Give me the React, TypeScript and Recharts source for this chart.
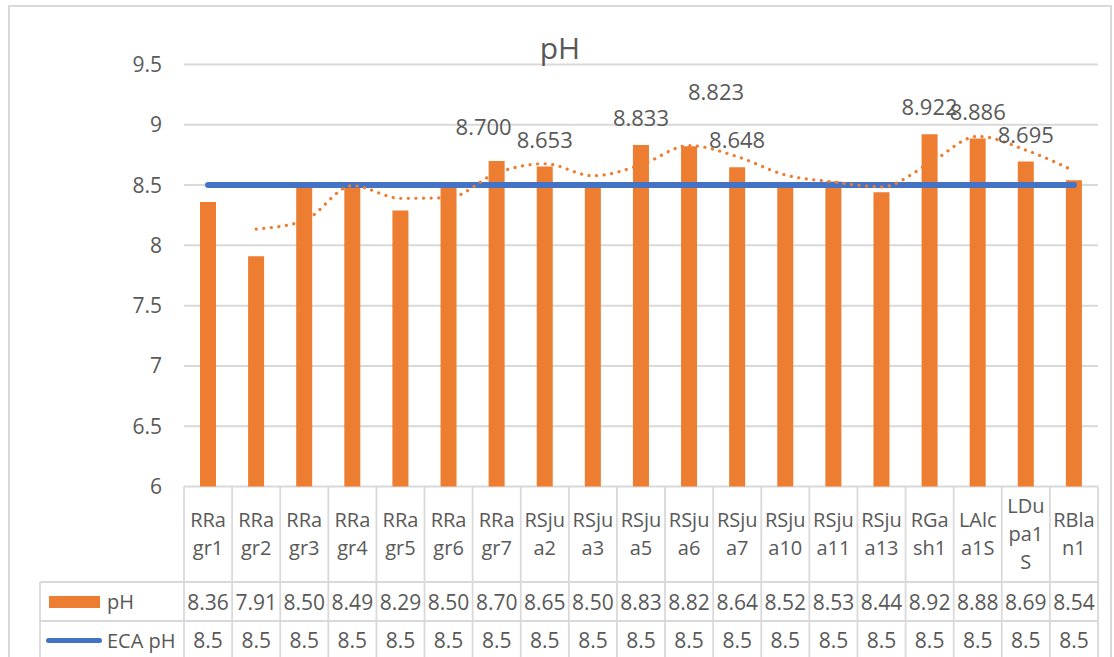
import React from "react";
import {
  ComposedChart,
  Bar,
  Line,
  XAxis,
  YAxis,
  CartesianGrid,
  LabelList,
} from "recharts";

const categories = [
  "RRagr1", "RRagr2", "RRagr3", "RRagr4", "RRagr5", "RRagr6", "RRagr7",
  "RSjua2", "RSjua3", "RSjua5", "RSjua6", "RSjua7", "RSjua10", "RSjua11", "RSjua13",
  "RGash1", "LAlca1S", "LDupa1S", "RBlan1",
];

const categoryLines = [
  ["RRa", "gr1"], ["RRa", "gr2"], ["RRa", "gr3"], ["RRa", "gr4"], ["RRa", "gr5"],
  ["RRa", "gr6"], ["RRa", "gr7"], ["RSju", "a2"], ["RSju", "a3"], ["RSju", "a5"],
  ["RSju", "a6"], ["RSju", "a7"], ["RSju", "a10"], ["RSju", "a11"], ["RSju", "a13"],
  ["RGa", "sh1"], ["LAlc", "a1S"], ["LDu", "pa1", "S"], ["RBla", "n1"],
];

const phValues = [
  8.36, 7.91, 8.5, 8.49, 8.29, 8.5, 8.7, 8.653, 8.5, 8.833, 8.823, 8.648, 8.52,
  8.53, 8.44, 8.922, 8.886, 8.695, 8.54,
];

const phTableText = [
  "8.36", "7.91", "8.50", "8.49", "8.29", "8.50", "8.70", "8.65", "8.50", "8.83",
  "8.82", "8.64", "8.52", "8.53", "8.44", "8.92", "8.88", "8.69", "8.54",
];

const ecaValues = [
  8.5, 8.5, 8.5, 8.5, 8.5, 8.5, 8.5, 8.5, 8.5, 8.5, 8.5, 8.5, 8.5, 8.5, 8.5, 8.5,
  8.5, 8.5, 8.5,
];

const ecaTableText = [
  "8.5", "8.5", "8.5", "8.5", "8.5", "8.5", "8.5", "8.5", "8.5", "8.5", "8.5",
  "8.5", "8.5", "8.5", "8.5", "8.5", "8.5", "8.5", "8.5",
];

// 2-period moving average trendline
const trendValues = [
  null, 8.135, 8.205, 8.495, 8.39, 8.395, 8.6, 8.677, 8.577, 8.667, 8.828, 8.736,
  8.584, 8.525, 8.485, 8.681, 8.904, 8.79, 8.618,
];

const labeledCategories = [
  "RRagr7", "RSjua2", "RSjua5", "RSjua6", "RSjua7", "RGash1", "LAlca1S", "LDupa1S",
];

const yTicks = [6, 6.5, 7, 7.5, 8, 8.5, 9, 9.5];

const labelNudges: Record<string, { dx: number; dy: number }> = {
  RRagr7: { dx: -13, dy: -7 },
  RSjua6: { dx: 27, dy: -27 },
};

const data = categories.map((c, i) => ({
  category: c,
  ph: phValues[i],
  eca: ecaValues[i],
  trend: trendValues[i],
  labelText: labeledCategories.includes(c) ? phValues[i].toFixed(3) : null,
}));

const FONT = "'Open Sans', 'Noto Sans', sans-serif";
const TEXT = "#595959";
const GRID = "#D9D9D9";
const ORANGE = "#ED7D31";
const BLUE = "#4472C4";

const W = 1100;
const H = 656;
const M_LEFT = 114;
const Y_W = 60;
const M_RIGHT = 12;
const M_TOP = 57.5;
const X_H = 176.5;
const PLOT_W = W - M_LEFT - Y_W - M_RIGHT;

const TABLE_FONT = 20;
const VALUE_FONT = 21;

const TableTick = (props: any) => {
  const { x, y, payload } = props;
  const i = payload.index;
  const colW = PLOT_W / categories.length;
  const left = x - colW / 2;
  const right = x + colW / 2;
  const top = y;
  const hdrBottom = top + 95.5;
  const phBottom = top + 134.5;
  const phCenter = top + 115.5;
  const ecaCenter = top + 154;
  const lines = categoryLines[i] || [];
  const hdrCenter = top + 47.5;
  const base = 0.36 * TABLE_FONT;
  const vbase = 0.36 * VALUE_FONT;
  const els: any[] = [];
  els.push(<line key="vl" x1={left} x2={left} y1={top} y2={top + 200} stroke={GRID} strokeWidth={1.8} />);
  if (i === categories.length - 1) {
    els.push(<line key="vr" x1={right} x2={right} y1={top} y2={top + 200} stroke={GRID} strokeWidth={1.8} />);
  }
  els.push(<line key="h1" x1={left} x2={right} y1={hdrBottom} y2={hdrBottom} stroke={GRID} strokeWidth={1.8} />);
  els.push(<line key="h2" x1={left} x2={right} y1={phBottom} y2={phBottom} stroke={GRID} strokeWidth={1.8} />);
  lines.forEach((ln: string, k: number) => {
    const cy = hdrCenter + (k - (lines.length - 1) / 2) * 28;
    els.push(
      <text key={"c" + k} x={x} y={cy + base} textAnchor="middle" fontSize={TABLE_FONT} fontFamily={FONT} fill={TEXT}>
        {ln}
      </text>
    );
  });
  els.push(
    <text key="pv" x={x} y={phCenter + vbase} textAnchor="middle" fontSize={VALUE_FONT} fontFamily={FONT} fill={TEXT}>
      {phTableText[i]}
    </text>
  );
  els.push(
    <text key="ev" x={x} y={ecaCenter + vbase} textAnchor="middle" fontSize={VALUE_FONT} fontFamily={FONT} fill={TEXT}>
      {ecaTableText[i]}
    </text>
  );
  if (i === 0) {
    const lx = left - 144;
    els.push(<line key="lh1" x1={lx} x2={left} y1={hdrBottom} y2={hdrBottom} stroke={GRID} strokeWidth={1.8} />);
    els.push(<line key="lh2" x1={lx} x2={left} y1={phBottom} y2={phBottom} stroke={GRID} strokeWidth={1.8} />);
    els.push(<line key="lv" x1={lx} x2={lx} y1={hdrBottom} y2={top + 200} stroke={GRID} strokeWidth={1.8} />);
    els.push(<rect key="sw" x={lx + 9} y={phCenter - 6} width={51} height={12} fill={ORANGE} />);
    els.push(
      <text key="lt1" x={lx + 67} y={phCenter + base} textAnchor="start" fontSize={TABLE_FONT} fontFamily={FONT} fill={TEXT}>
        pH
      </text>
    );
    els.push(
      <line key="bl" x1={lx + 8.5} x2={lx + 59.5} y1={ecaCenter} y2={ecaCenter} stroke={BLUE} strokeWidth={5} strokeLinecap="round" />
    );
    els.push(
      <text key="lt2" x={lx + 67} y={ecaCenter + base} textAnchor="start" fontSize={TABLE_FONT} fontFamily={FONT} fill={TEXT}>
        ECA pH
      </text>
    );
  }
  return <g>{els}</g>;
};

const DataLabel = (props: any) => {
  const { value, index } = props;
  if (value === null || value === undefined || value === "") return null;
  const vb = props.viewBox || props;
  const bx = vb.x ?? props.x;
  const by = vb.y ?? props.y;
  const bw = vb.width ?? props.width;
  const cat = categories[index];
  const n = labelNudges[cat] || { dx: 0, dy: 0 };
  return (
    <text
      x={bx + bw / 2 + n.dx}
      y={by - 19 + n.dy}
      textAnchor="middle"
      fontSize={22}
      fontFamily={FONT}
      fill={TEXT}
    >
      {value}
    </text>
  );
};

export default function App() {
  return (
    <div
      style={{
        position: "fixed",
        left: 8,
        top: 5,
        width: 1104,
        height: 660,
        border: `2px solid ${GRID}`,
        boxSizing: "border-box",
        background: "#fff",
        overflow: "hidden",
      }}
    >
      <div style={{ position: "absolute", left: 0, top: 0 }}>
        <ComposedChart
          width={W}
          height={H}
          data={data}
          margin={{ top: M_TOP, right: M_RIGHT, bottom: 0, left: M_LEFT }}
        >
          <CartesianGrid horizontal vertical={false} stroke={GRID} strokeWidth={2} />
          <XAxis
            dataKey="category"
            interval={0}
            height={X_H}
            tickSize={0}
            tickMargin={0}
            axisLine={false}
            tickLine={false}
            tick={<TableTick />}
          />
          <YAxis
            type="number"
            domain={[6, 9.5]}
            ticks={yTicks}
            width={Y_W}
            tickSize={0}
            tickMargin={22}
            axisLine={false}
            tickLine={false}
            tick={{ fontSize: 21, fill: TEXT, fontFamily: FONT }}
          />
          <Bar dataKey="ph" fill={ORANGE} barSize={16} isAnimationActive={false}>
            <LabelList dataKey="labelText" content={<DataLabel />} />
          </Bar>
          <Line
            dataKey="eca"
            type="linear"
            stroke={BLUE}
            strokeWidth={6}
            strokeLinecap="round"
            dot={false}
            activeDot={false}
            isAnimationActive={false}
          />
          <Line
            dataKey="trend"
            type="monotone"
            stroke={ORANGE}
            strokeWidth={3.2}
            strokeDasharray="0.1 7.5"
            strokeLinecap="round"
            dot={false}
            activeDot={false}
            connectNulls={false}
            isAnimationActive={false}
          />
        </ComposedChart>
      </div>
      <svg width={W} height={70} style={{ position: "absolute", left: 0, top: 0, pointerEvents: "none" }}>
        <text x={550} y={52} textAnchor="middle" fontSize={30} fontFamily={FONT} fill={TEXT}>
          pH
        </text>
      </svg>
    </div>
  );
}
